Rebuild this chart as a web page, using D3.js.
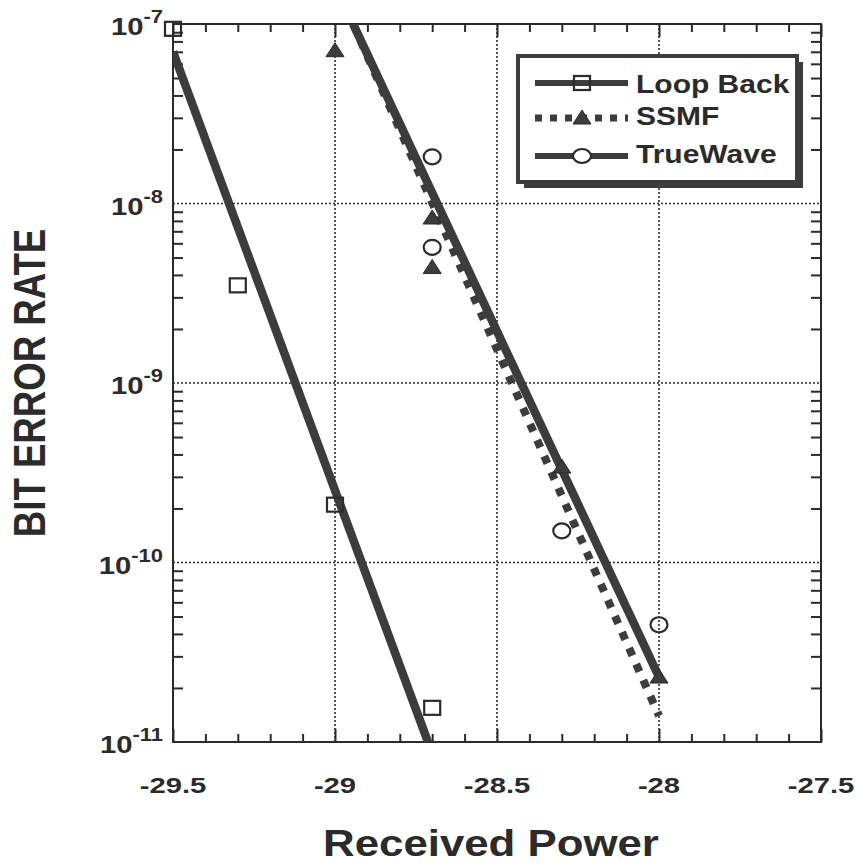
<!DOCTYPE html>
<html>
<head>
<meta charset="utf-8">
<script src="https://cdn.jsdelivr.net/npm/d3@7"></script>
<style>
  html, body { margin: 0; padding: 0; background: #fff; }
  svg { display: block; }
  text { font-family: "Liberation Sans", Arial, sans-serif; font-weight: bold; fill: #2b2b2b; }
</style>
</head>
<body>
<svg id="chart" width="857" height="863"></svg>
<script>
// Measured bit error rate versus received optical power (dBm)
const loopX   = [-29.5, -29.3, -29.0, -28.7];
const loopBER = [9.4e-8, 3.5e-9, 2.1e-10, 1.55e-11];

const ssmfX   = [-29.0, -28.7, -28.7, -28.3, -28.0];
const ssmfBER = [7.1e-8, 8.3e-9, 4.4e-9, 3.4e-10, 2.3e-11];

const trueX   = [-28.7, -28.7, -28.3, -28.0];
const trueBER = [1.82e-8, 5.7e-9, 1.5e-10, 4.5e-11];

// Fitted straight lines (log BER vs power), given by their end points
const loopFitX   = [-29.5, -28.713];
const loopFitBER = [7.0e-8, 1e-11];
const ssmfFitX   = [-28.944, -28.0];
const ssmfFitBER = [1e-7, 1.4e-11];
const trueFitX   = [-28.944, -28.0];
const trueFitBER = [1e-7, 2.3e-11];

const xTicks = [-29.5, -29, -28.5, -28, -27.5];
const xTickLabels = ["-29.5", "-29", "-28.5", "-28", "-27.5"];
const yExponents = [-7, -8, -9, -10, -11];

const seriesNames = ["Loop Back", "SSMF", "TrueWave"];

const svg = d3.select("#chart");
const ink = "#2b2b2b";
const lineInk = "#3c3c3c";

const plot = { left: 173, right: 821, top: 24, bottom: 742 };

const x = d3.scaleLinear().domain([-29.5, -27.5]).range([plot.left, plot.right]);
const y = d3.scaleLog().domain([1e-11, 1e-7]).range([plot.bottom, plot.top]);

svg.append("defs").append("clipPath").attr("id", "plotClip")
  .append("rect")
  .attr("x", plot.left).attr("y", plot.top)
  .attr("width", plot.right - plot.left).attr("height", plot.bottom - plot.top);

// Horizontally widened text helper
function wideText(parent, tx, ty, sx, str, size, anchor) {
  const g = parent.append("g").attr("transform", `translate(${tx},${ty}) scale(${sx},1)`);
  return g.append("text").attr("x", 0).attr("y", 0)
    .attr("font-size", size).attr("text-anchor", anchor || "start").text(str);
}

// Dotted grid at the major decades and major power values
const grid = svg.append("g");
[-29, -28.5, -28].forEach(v => {
  grid.append("line")
    .attr("x1", x(v)).attr("x2", x(v)).attr("y1", plot.top).attr("y2", plot.bottom)
    .attr("stroke", ink).attr("stroke-width", 1.6).attr("stroke-dasharray", "2,2");
});
[1e-8, 1e-9, 1e-10].forEach(v => {
  grid.append("line")
    .attr("x1", plot.left).attr("x2", plot.right).attr("y1", y(v)).attr("y2", y(v))
    .attr("stroke", ink).attr("stroke-width", 1.6).attr("stroke-dasharray", "2,2");
});

// Axes (ticks pointing inward on all four sides)
const xMinor = d3.range(-29.5, -27.5 + 1e-9, 0.1).map(v => +v.toFixed(2));
const yMinor = [];
for (let e = -11; e < -7; e++) for (let m = 2; m <= 9; m++) yMinor.push(m * Math.pow(10, e));

const axisG = svg.append("g").attr("stroke", ink).attr("stroke-width", 2);

svg.append("g").attr("transform", `translate(0,${plot.bottom})`)
  .call(d3.axisBottom(x).tickValues(xMinor).tickSize(-8).tickFormat(""))
  .call(g => g.select(".domain").remove())
  .selectAll("line").attr("stroke", ink).attr("stroke-width", 2)
  .attr("y2", d => xTicks.some(t => Math.abs(t - d) < 1e-6) ? -13 : -8);
svg.append("g").attr("transform", `translate(0,${plot.top})`)
  .call(d3.axisTop(x).tickValues(xMinor).tickSize(-8).tickFormat(""))
  .call(g => g.select(".domain").remove())
  .selectAll("line").attr("stroke", ink).attr("stroke-width", 2)
  .attr("y2", d => xTicks.some(t => Math.abs(t - d) < 1e-6) ? 13 : 8);
svg.append("g").attr("transform", `translate(${plot.left},0)`)
  .call(d3.axisLeft(y).tickValues(yMinor).tickSize(-10).tickFormat(""))
  .call(g => g.select(".domain").remove())
  .selectAll("line").attr("stroke", ink).attr("stroke-width", 2);
svg.append("g").attr("transform", `translate(${plot.right},0)`)
  .call(d3.axisRight(y).tickValues(yMinor).tickSize(-10).tickFormat(""))
  .call(g => g.select(".domain").remove())
  .selectAll("line").attr("stroke", ink).attr("stroke-width", 2);

axisG.append("rect")
  .attr("x", plot.left).attr("y", plot.top)
  .attr("width", plot.right - plot.left).attr("height", plot.bottom - plot.top)
  .attr("fill", "none");

// Tick labels
xTicks.forEach((v, i) => {
  wideText(svg, x(v), 793, 1.3, xTickLabels[i], 22.5, "middle");
});
yExponents.forEach(e => {
  const g = svg.append("g").attr("transform", `translate(163,${y(Math.pow(10, e)) + 11}) scale(1.22,1)`);
  const t = g.append("text").attr("text-anchor", "end").attr("font-size", 24);
  t.append("tspan").text("10");
  t.append("tspan").attr("font-size", 18).attr("dy", -12).text(String(e));
});

// Axis titles
wideText(svg, 491, 856, 1.2, "Received Power", 36.5, "middle");
{
  const g = svg.append("g").attr("transform", "translate(45,383) scale(1.22,1) rotate(-90)");
  g.append("text").attr("text-anchor", "middle").attr("font-size", 36.6).text("BIT ERROR RATE");
}

// Fit lines
const lineGen = d3.line().x(d => x(d[0])).y(d => y(d[1]));
const fits = svg.append("g").attr("clip-path", "url(#plotClip)");
fits.append("path").datum(d3.zip(loopFitX, loopFitBER)).attr("d", lineGen)
  .attr("fill", "none").attr("stroke", lineInk).attr("stroke-width", 8.5);
fits.append("path").datum(d3.zip(ssmfFitX, ssmfFitBER)).attr("d", lineGen)
  .attr("fill", "none").attr("stroke", lineInk).attr("stroke-width", 8)
  .attr("stroke-dasharray", "8,9.5");
fits.append("path").datum(d3.zip(trueFitX, trueFitBER)).attr("d", lineGen)
  .attr("fill", "none").attr("stroke", lineInk).attr("stroke-width", 8.5);

// Marker shapes
function square(g, cx, cy) {
  g.append("rect").attr("x", cx - 8).attr("y", cy - 7).attr("width", 16).attr("height", 14)
    .attr("fill", "none").attr("stroke", ink).attr("stroke-width", 2.2);
}
function triangle(g, cx, cy) {
  g.append("path").attr("d", `M${cx},${cy - 8} L${cx + 9},${cy + 6} L${cx - 9},${cy + 6} Z`)
    .attr("fill", lineInk).attr("stroke", ink).attr("stroke-width", 1);
}
function circle(g, cx, cy) {
  g.append("ellipse").attr("cx", cx).attr("cy", cy).attr("rx", 8.5).attr("ry", 7.5)
    .attr("fill", "none").attr("stroke", ink).attr("stroke-width", 2.2);
}

const marks = svg.append("g");
loopX.forEach((v, i) => square(marks, x(v), y(loopBER[i])));
ssmfX.forEach((v, i) => triangle(marks, x(v), y(ssmfBER[i])));
trueX.forEach((v, i) => circle(marks, x(v), y(trueBER[i])));

// Legend box with drop shadow
const leg = svg.append("g");
const box = { x: 518, y: 56, w: 279, h: 126 };
leg.append("rect").attr("x", box.x + 6).attr("y", box.y + 6).attr("width", box.w).attr("height", box.h)
  .attr("fill", lineInk);
leg.append("rect").attr("x", box.x).attr("y", box.y).attr("width", box.w).attr("height", box.h)
  .attr("fill", "#fff").attr("stroke", lineInk).attr("stroke-width", 4);

const rowY = [83, 118, 156];
const textY = [93, 125, 163];
seriesNames.forEach((name, i) => {
  const ln = leg.append("line").attr("x1", 535).attr("x2", 628).attr("y1", rowY[i]).attr("y2", rowY[i])
    .attr("stroke", lineInk).attr("stroke-width", 6);
  if (i === 1) ln.attr("stroke-width", 7).attr("stroke-dasharray", "7,8");
  if (i === 0) square(leg, 582, rowY[i]);
  if (i === 1) triangle(leg, 582, rowY[i]);
  if (i === 2) {
    leg.append("ellipse").attr("cx", 582).attr("cy", rowY[i]).attr("rx", 9).attr("ry", 7)
      .attr("fill", "#fff").attr("stroke", ink).attr("stroke-width", 2.2);
  }
  wideText(leg, 636, textY[i], 1.2, name, 25, "start");
});
</script>
</body>
</html>
